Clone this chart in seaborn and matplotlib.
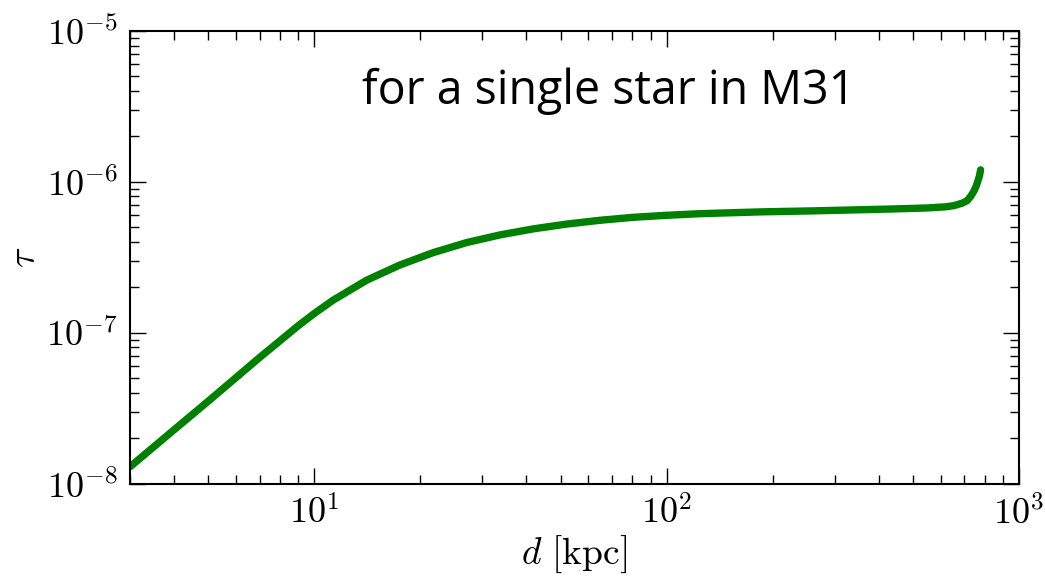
import matplotlib
matplotlib.use("Agg")
import matplotlib.pyplot as plt
from matplotlib.ticker import FuncFormatter
import numpy as np
import seaborn as sns
import pandas as pd

# distance d [kpc] and optical depth tau
d_kpc = [3, 4, 5, 6, 7, 8, 9, 10, 11.3, 14.1, 17.5, 21.8, 27.1, 33.7, 41.9,
         52.1, 64.7, 80.5, 100, 124.5, 184, 260, 355, 450, 548, 620, 653, 690,
         713, 730, 745, 756, 764, 772, 778]
tau = [1.29e-8, 2.27e-8, 3.51e-8, 5.04e-8, 6.85e-8, 8.85e-8, 1.11e-7, 1.34e-7,
       1.64e-7, 2.23e-7, 2.81e-7, 3.40e-7, 3.96e-7, 4.45e-7, 4.88e-7, 5.25e-7,
       5.56e-7, 5.82e-7, 6.00e-7, 6.15e-7, 6.32e-7, 6.42e-7, 6.53e-7, 6.62e-7,
       6.71e-7, 6.83e-7, 6.95e-7, 7.22e-7, 7.51e-7, 8.04e-7, 8.69e-7, 9.37e-7,
       1.01e-6, 1.09e-6, 1.20e-6]

annotation = "for a single star in M31"
x_label = r"$d\ [\mathrm{kpc}]$"
y_label = r"$\tau$"

sns.set_style("ticks")
plt.rcParams["font.family"] = ["DejaVu Sans"]
plt.rcParams["mathtext.fontset"] = "cm"
plt.rcParams["axes.linewidth"] = 1.5
plt.rcParams["axes.edgecolor"] = "black"
plt.rcParams["text.color"] = "black"
plt.rcParams["axes.labelcolor"] = "black"
plt.rcParams["xtick.color"] = "black"
plt.rcParams["ytick.color"] = "black"

df = pd.DataFrame({"d": d_kpc, "tau": tau})

fig = plt.figure(figsize=(10.45, 5.79), dpi=100)
ax = fig.add_axes([130 / 1045, (579 - 483.5) / 579, 889 / 1045, 452.5 / 579])

sns.lineplot(data=df, x="d", y="tau", ax=ax, color="green", linewidth=5.3,
             estimator=None, sort=False)

ax.set_xscale("log")
ax.set_yscale("log")
ax.set_xlim(3, 1000)
ax.set_ylim(1e-8, 1e-5)

pow_fmt = FuncFormatter(lambda v, pos: r"$10^{%d}$" % int(round(np.log10(v))))
ax.xaxis.set_major_formatter(pow_fmt)
ax.yaxis.set_major_formatter(pow_fmt)

ax.tick_params(which="both", direction="in", top=True, right=True, width=1.0)
ax.tick_params(which="major", length=11.5, labelsize=26, pad=9)
ax.tick_params(which="minor", length=6.5)

ax.set_xlabel(x_label, fontsize=27, labelpad=2)
ax.set_ylabel(y_label, fontsize=27, labelpad=2)

ax.text(0.261, 0.838, annotation, transform=ax.transAxes, fontsize=33.5,
        family=["Open Sans", "DejaVu Sans"], ha="left", va="baseline")

fig.savefig("out.png", dpi=100)
